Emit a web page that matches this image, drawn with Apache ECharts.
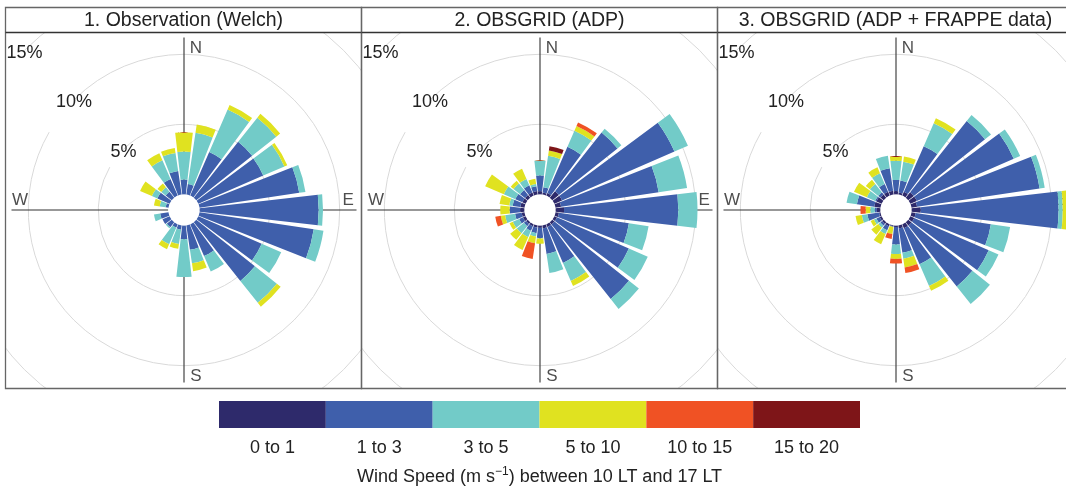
<!DOCTYPE html>
<html>
<head>
<meta charset="utf-8">
<title>Wind roses 10 LT to 17 LT</title>
<script src="https://cdn.jsdelivr.net/npm/echarts/dist/echarts.min.js"></script>
<style>
  html, body { margin: 0; padding: 0; background: #ffffff; }
  body { width: 1066px; height: 490px; overflow: hidden; position: relative; }
  .rose { position: absolute; top: 32px; width: 356px; height: 356px; }
  #frame { position: absolute; left: 0; top: 0; width: 1066px; height: 490px; }
</style>
</head>
<body>
<div id="rose0" class="rose" style="left:6px"></div>
<div id="rose1" class="rose" style="left:362px"></div>
<div id="rose2" class="rose" style="left:718px"></div>
<div id="frame"></div>
<script>
const FONT = '"Liberation Sans", Arial, Helvetica, sans-serif';

// Wind directions (degrees clockwise from north), one sector each
const DIRECTIONS = [0, 15, 30, 45, 60, 75, 90, 105, 120, 135, 150, 165,
                    180, 195, 210, 225, 240, 255, 270, 285, 300, 315, 330, 345];
const SPEED_BINS = ['0 to 1', '1 to 3', '3 to 5', '5 to 10', '10 to 15', '15 to 20'];
const BIN_COLORS = ['#2e2a6b', '#3f5fab', '#72cbc8', '#e0e220', '#f05224', '#7e1518'];
const RADIUS_TICKS = [5, 10, 15];           // frequency rings, %
const COMPASS = ['N', 'E', 'S', 'W'];
const PANEL_TITLES = ['1. Observation (Welch)', '2. OBSGRID (ADP)', '3. OBSGRID (ADP + FRAPPE data)'];

// Frequency (%) per direction for each speed bin (m/s)
// 1. Observation (Welch)
const welch0to1   = [0,0,0,0,0,0,0,0,0,0,0,0,0,0,0,0,0,0,0,0,0,0,0,0];
const welch1to3   = [1.05,0.75,3.4,5.1,5.05,7.2,8.5,8.25,4.93,5.35,2.47,1.75,0.97,0.3,0.25,0.45,0.55,0.6,0,0.2,0.95,0.55,1.3,1.7];
const welch3to5   = [2.0,3.7,3.3,2.2,1.65,0.45,0.31,0.7,1.52,2.0,1.2,0.98,2.7,1.03,1.3,0.1,0,0.45,0,0.43,0.43,0.4,1.45,1.3];
const welch5to10  = [1.38,0.6,0.35,0.35,0.22,0,0,0,0,0.35,0,0.57,0,0.35,0.38,0,0,0,0,0.42,0.92,0.35,0.55,0.35];
const welch10to15 = [0,0,0,0,0,0,0,0,0,0,0,0,0,0,0,0,0,0,0,0,0,0,0,0];
const welch15to20 = [0,0,0,0,0,0,0,0,0,0,0,0,0,0,0,0,0,0,0,0,0,0,0,0];
// 2. OBSGRID (ADP)
const adp0to1   = [0.22,0.15,0.2,0.6,0.6,0.4,0.6,0.25,0.2,0.2,0.2,0.2,0.15,0.15,0.15,0.15,0.2,0.2,0.3,0.3,0.25,0.25,0.25,0.25];
const adp1to3   = [1.13,0.37,3.6,5.35,8.75,7.05,8.16,5.05,5.6,6.8,2.8,1.85,0.72,0.4,0.35,0.2,0.3,0.48,0.75,0.55,0.55,0.45,0.55,0.35];
const adp3to5   = [1.07,2.28,1.25,0.35,1.05,2.05,1.37,1.42,1.47,0.9,1.4,1.38,0.05,0.25,0.5,0.65,0.5,0.72,0,0.25,0.9,0.6,0.5,0.16];
const adp5to10  = [0,0.38,0.37,0,0,0,0,0,0,0,0.4,0,0.37,0.48,1.0,0.6,0.25,0.31,0.67,0.7,1.45,0.25,0.8,0.38];
const adp10to15 = [0,0,0.28,0,0,0,0,0,0,0,0,0,0,1.14,0,0,0,0.4,0,0,0,0,0,0];
const adp15to20 = [0,0.3,0,0,0,0,0,0,0,0,0,0,0,0,0,0,0,0,0,0,0,0,0,0];
// 3. OBSGRID (ADP + FRAPPE data)
const frappe0to1   = [0.23,0.15,0.3,0.5,0.5,0.4,0.65,0.3,0.3,0.3,0.3,0.2,0.1,0.05,0.15,0.15,0.15,0.1,0.25,0.45,0.4,0.3,0.3,0.27];
const frappe1to3   = [0.8,0.85,3.55,6.5,7.55,8.85,9.84,5.43,5.8,5.55,2.8,1.77,1.25,0.05,0.3,0.15,0.25,0.85,0.15,1.25,0.1,0.2,0.6,1.63];
const frappe3to5   = [1.37,1.37,1.79,0.55,0.5,0.37,0.3,1.39,0.76,1.6,1.7,0.43,0.67,0,0.3,0.2,0.2,0.4,0.32,0.75,0.65,0.76,0.85,0.9];
const frappe5to10  = [0.33,0.37,0.39,0,0,0,0.31,0,0,0,0.37,0.63,0.35,0.52,0.8,0.63,0.25,0.45,0.33,0,1.0,0.37,0.45,0];
const frappe10to15 = [0,0,0,0,0,0,0,0,0,0,0,0.39,0.33,0.36,0,0,0,0,0.37,0,0,0,0,0];
const frappe15to20 = [0,0,0,0,0,0,0,0,0,0,0,0,0,0,0,0,0,0,0,0,0,0,0,0];

const PANELS = [
  [welch0to1, welch1to3, welch3to5, welch5to10, welch10to15, welch15to20],
  [adp0to1, adp1to3, adp3to5, adp5to10, adp10to15, adp15to20],
  [frappe0to1, frappe1to3, frappe3to5, frappe5to10, frappe10to15, frappe15to20]
];

// The angle axis starts at the NW diagonal so the % labels of the
// radius axis sit along it; sectors are reordered to begin at 315 deg.
const FIRST = DIRECTIONS.indexOf(315);
const rot = a => a.slice(FIRST).concat(a.slice(0, FIRST));
const CATS = rot(DIRECTIONS).map(String);

const HOLE = 15.7;         // px, empty centre
const PX_PER_PCT = 14;     // px per 1 %
const R_MAX = RADIUS_TICKS[RADIUS_TICKS.length - 1];
const CROSS_LEN = 11.2;    // % reach of the compass cross
const COMPASS_POS = 10.6;  // % radius of N/E/S/W letters
const COMPASS_OFFSET = [[12, 2], [0, -9.5], [12, 2], [0, -9.5]];

function roseOption(bins) {
  const series = [];
  COMPASS.forEach((c, k) => {
    const idx = CATS.indexOf(String(k * 90));
    series.push({
      type: 'line', coordinateSystem: 'polar', silent: true, z: 1,
      symbol: 'none', animation: false,
      lineStyle: { color: '#333333', width: 1.1 },
      data: [[0, idx], [CROSS_LEN, idx]]
    });
  });
  series.push({
    type: 'scatter', coordinateSystem: 'polar', silent: true, z: 2,
    symbolSize: 0, animation: false,
    label: { show: true, position: 'inside', formatter: '{b}',
             fontFamily: FONT, fontSize: 17, color: '#222222' },
    data: COMPASS.map((c, k) => ({
      name: c,
      value: [COMPASS_POS, CATS.indexOf(String(k * 90))],
      label: { offset: COMPASS_OFFSET[k] }
    }))
  });
  bins.forEach((vals, b) => {
    series.push({
      type: 'bar', coordinateSystem: 'polar', stack: 'speed', silent: true,
      name: SPEED_BINS[b], z: 3, animation: false,
      barCategoryGap: '13%',
      itemStyle: { color: BIN_COLORS[b] },
      data: rot(vals)
    });
  });
  return {
    animation: false,
    polar: { center: ['50%', '50%'], radius: [HOLE, HOLE + PX_PER_PCT * R_MAX] },
    angleAxis: {
      type: 'category', data: CATS, startAngle: 135, clockwise: true,
      boundaryGap: false,
      axisLine: { show: false }, axisTick: { show: false },
      axisLabel: { show: false }, splitLine: { show: false }
    },
    radiusAxis: {
      type: 'value', min: 0, max: R_MAX, interval: RADIUS_TICKS[0],
      axisLine: { show: false }, axisTick: { show: false },
      splitLine: { show: true, lineStyle: {
        color: ['rgba(0,0,0,0)', '#d9d9d9', '#d9d9d9', '#d9d9d9'], width: 1 } },
      axisLabel: {
        margin: 0, align: 'center', verticalAlign: 'middle',
        fontFamily: FONT, fontSize: 18, color: '#222222',
        rich: { pct: { fontFamily: FONT, fontSize: 18, color: '#222222', padding: [5, 0, 0, 0] } },
        formatter: v => (RADIUS_TICKS.indexOf(v) >= 0 ? '{pct|' + v + '%}' : '')
      }
    },
    series: series
  };
}

PANELS.forEach((bins, i) => {
  const chart = echarts.init(document.getElementById('rose' + i), null, { renderer: 'canvas' });
  chart.setOption(roseOption(bins));
});

// Panel frames, titles and the speed colour bar
const PANEL_LEFT = [5.5, 361.5, 717.5];
const PANEL_W = 356, FRAME_TOP = 7.5, FRAME_BOTTOM = 388.5, TITLE_LINE = 32.5;
const graphics = [];
PANEL_LEFT.forEach((x, i) => {
  graphics.push({
    type: 'rect', silent: true, z: 10,
    shape: { x: x, y: FRAME_TOP, width: PANEL_W, height: FRAME_BOTTOM - FRAME_TOP },
    style: { fill: 'none', stroke: '#666666', lineWidth: 1.3 }
  });
  graphics.push({
    type: 'line', silent: true, z: 10,
    shape: { x1: x, y1: TITLE_LINE, x2: x + PANEL_W, y2: TITLE_LINE },
    style: { stroke: '#333333', lineWidth: 1.3 }
  });
  graphics.push({
    type: 'text', silent: true, z: 11,
    x: x + PANEL_W / 2, y: (FRAME_TOP + TITLE_LINE) / 2 + 0.5,
    style: { text: PANEL_TITLES[i], fontFamily: FONT, fontSize: 19.5,
             fill: '#222222', align: 'center', verticalAlign: 'middle' }
  });
});

const frame = echarts.init(document.getElementById('frame'));
frame.setOption({
  animation: false,
  graphic: graphics,
  grid: { left: 219, top: 401, width: 641, height: 27 },
  xAxis: {
    type: 'category', data: SPEED_BINS,
    axisLine: { show: false }, axisTick: { show: false },
    axisLabel: { margin: 11, fontFamily: FONT, fontSize: 18, color: '#222222' },
    name: 'Wind Speed (m s{sup|\u22121}) between 10 LT and 17 LT',
    nameLocation: 'middle', nameGap: 38,
    nameTextStyle: {
      fontFamily: FONT, fontSize: 18, color: '#222222', lineHeight: 22,
      rich: { sup: { fontFamily: FONT, fontSize: 12, color: '#222222',
                     lineHeight: 12, verticalAlign: 'top' } }
    }
  },
  yAxis: { type: 'value', min: 0, max: 1, show: false },
  series: [{
    type: 'bar', silent: true, barWidth: '100%',
    data: SPEED_BINS.map((s, i) => ({ value: 1, itemStyle: { color: BIN_COLORS[i] } }))
  }]
});
</script>
</body>
</html>
